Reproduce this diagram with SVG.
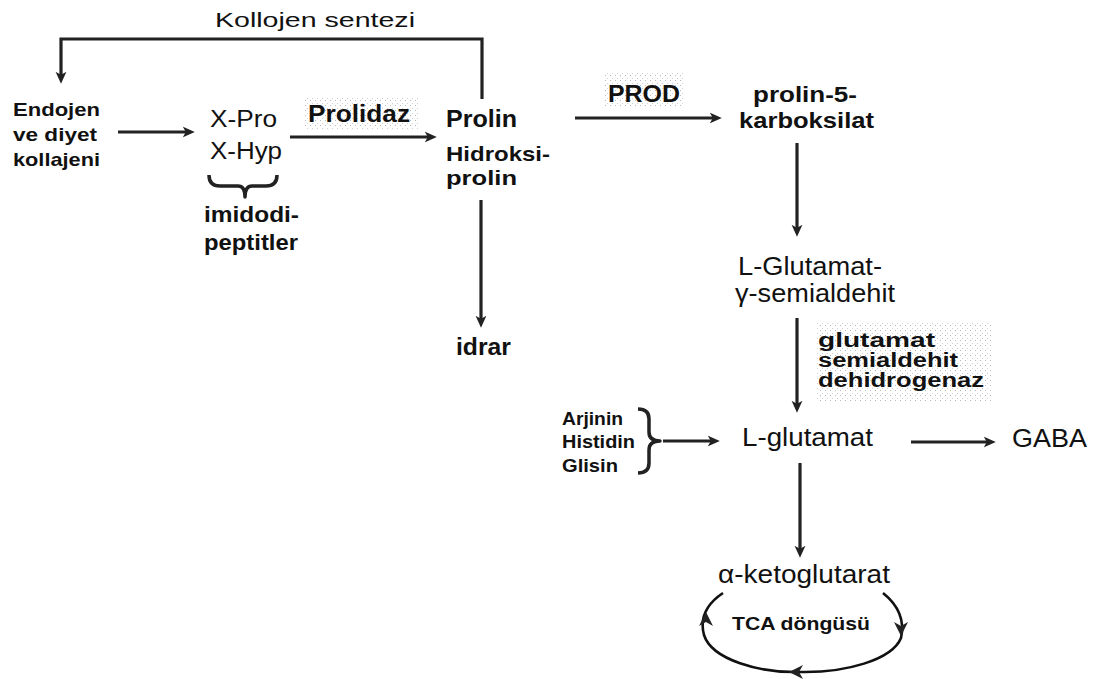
<svg xmlns="http://www.w3.org/2000/svg" width="1094" height="679" viewBox="0 0 1094 679">
<style>
text{font-family:"Liberation Sans",Arial,sans-serif;fill:#111}
.b{font-weight:bold}
.conn{stroke:#222;stroke-width:3.2;fill:none}
.brace{stroke:#222;stroke-width:3.5;fill:none;stroke-linejoin:round}
.cyc{stroke:#111;stroke-width:2.6;fill:none}
.head{fill:#222}
.dots{fill:url(#dots)}
</style>
<defs>
<marker id="ah" viewBox="0 0 10 10" refX="6" refY="5" markerWidth="12" markerHeight="12" markerUnits="userSpaceOnUse" orient="auto">
<path d="M0,0.5 L10,5 L0,9.5 L2.5,5 z" fill="#222"/>
</marker>
<pattern id="dots" width="5" height="5" patternUnits="userSpaceOnUse">
<rect x="0" y="0" width="1" height="1" fill="#b8b8b8"/>
<rect x="2" y="3" width="1" height="1" fill="#d0d0d0"/>
</pattern>
</defs>
<rect width="1094" height="679" fill="#fff"/>

<g id="connectors">
<polyline class="conn" points="482,99 482,39 61,39 61,79" marker-end="url(#ah)"/>
<line class="conn" x1="118" y1="132" x2="190" y2="132" marker-end="url(#ah)"/>
<line class="conn" x1="290" y1="137" x2="432" y2="137" marker-end="url(#ah)"/>
<line class="conn" x1="481" y1="200" x2="481" y2="323" marker-end="url(#ah)"/>
<line class="conn" x1="575" y1="118" x2="717" y2="118" marker-end="url(#ah)"/>
<line class="conn" x1="797" y1="143" x2="797" y2="232" marker-end="url(#ah)"/>
<line class="conn" x1="797" y1="318" x2="797" y2="408" marker-end="url(#ah)"/>
<line class="conn" x1="663" y1="441" x2="715" y2="441" marker-end="url(#ah)"/>
<line class="conn" x1="911" y1="442" x2="991" y2="442" marker-end="url(#ah)"/>
<line class="conn" x1="800" y1="463" x2="800" y2="553" marker-end="url(#ah)"/>
</g>

<g id="label-kollojen">
<text x="215" y="27" font-size="20" textLength="200" lengthAdjust="spacingAndGlyphs">Kollojen sentezi</text>
</g>

<g id="node-endojen">
<text class="b" x="13" y="116" font-size="19" textLength="87" lengthAdjust="spacingAndGlyphs">Endojen</text>
<text class="b" x="13" y="141" font-size="19" textLength="84" lengthAdjust="spacingAndGlyphs">ve diyet</text>
<text class="b" x="13" y="166" font-size="19" textLength="87" lengthAdjust="spacingAndGlyphs">kollajeni</text>
</g>

<g id="node-xpro">
<text x="210" y="127" font-size="23" textLength="67" lengthAdjust="spacingAndGlyphs">X-Pro</text>
<text x="210" y="159" font-size="23" textLength="72" lengthAdjust="spacingAndGlyphs">X-Hyp</text>
</g>

<g id="node-imidodipeptitler">
<path class="brace" d="M209,175 Q209,186 220,186 L238,186 Q245,186 245,197 Q245,186 252,186 L266,186 Q277,186 277,175"/>
<text class="b" x="204" y="222" font-size="22" textLength="95" lengthAdjust="spacingAndGlyphs">imidodi-</text>
<text class="b" x="204" y="250" font-size="22" textLength="94" lengthAdjust="spacingAndGlyphs">peptitler</text>
</g>

<g id="label-prolidaz">
<rect class="dots" x="303" y="96" width="117" height="33"/>
<text class="b" x="308" y="122" font-size="23" textLength="102" lengthAdjust="spacingAndGlyphs">Prolidaz</text>
</g>

<g id="node-prolin">
<text class="b" x="446" y="127" font-size="23" textLength="71" lengthAdjust="spacingAndGlyphs">Prolin</text>
<text class="b" x="446" y="161" font-size="21" textLength="104" lengthAdjust="spacingAndGlyphs">Hidroksi-</text>
<text class="b" x="446" y="185" font-size="21" textLength="71" lengthAdjust="spacingAndGlyphs">prolin</text>
</g>

<g id="node-idrar">
<text class="b" x="456" y="355" font-size="23" textLength="55" lengthAdjust="spacingAndGlyphs">idrar</text>
</g>

<g id="label-prod">
<rect class="dots" x="603" y="73" width="82" height="35"/>
<text class="b" x="608" y="102" font-size="24" textLength="72" lengthAdjust="spacingAndGlyphs">PROD</text>
</g>

<g id="node-p5c">
<text class="b" x="753" y="102" font-size="22" textLength="104" lengthAdjust="spacingAndGlyphs">prolin-5-</text>
<text class="b" x="739" y="128" font-size="22" textLength="135" lengthAdjust="spacingAndGlyphs">karboksilat</text>
</g>

<g id="node-glutamat-semialdehit">
<text x="738" y="275" font-size="25" textLength="144" lengthAdjust="spacingAndGlyphs">L-Glutamat-</text>
<text x="735" y="302" font-size="25" textLength="160" lengthAdjust="spacingAndGlyphs">γ-semialdehit</text>
</g>

<g id="label-gsd">
<rect class="dots" x="816" y="322" width="176" height="81"/>
<text class="b" x="818" y="347" font-size="20" textLength="117" lengthAdjust="spacingAndGlyphs">glutamat</text>
<text class="b" x="818" y="367" font-size="20" textLength="140" lengthAdjust="spacingAndGlyphs">semialdehit</text>
<text class="b" x="818" y="387" font-size="20" textLength="166" lengthAdjust="spacingAndGlyphs">dehidrogenaz</text>
</g>

<g id="node-aminoacids">
<text class="b" x="562" y="425" font-size="18" textLength="61" lengthAdjust="spacingAndGlyphs">Arjinin</text>
<text class="b" x="562" y="448" font-size="18" textLength="73" lengthAdjust="spacingAndGlyphs">Histidin</text>
<text class="b" x="562" y="472" font-size="18" textLength="56" lengthAdjust="spacingAndGlyphs">Glisin</text>
<path class="brace" d="M638,409 Q649,409 649,419 L649,432 Q649,441 660,441 Q649,441 649,450 L649,463 Q649,473 638,473"/>
</g>

<g id="node-lglutamat">
<text x="742" y="446" font-size="25" textLength="131" lengthAdjust="spacingAndGlyphs">L-glutamat</text>
</g>

<g id="node-gaba">
<text x="1012" y="447" font-size="25" textLength="75" lengthAdjust="spacingAndGlyphs">GABA</text>
</g>

<g id="node-aketoglutarat">
<text x="718" y="583" font-size="25" textLength="172" lengthAdjust="spacingAndGlyphs">α-ketoglutarat</text>
</g>

<g id="node-tca">
<path class="cyc" d="M723,593 C705,605 700,620 704,635 C712,660 760,673 800,672"/>
<path class="cyc" d="M883,593 C898,605 905,620 901,638 C892,660 845,673 800,672"/>
<polygon class="head" points="706,612 713,626 706,622 699,626"/>
<polygon class="head" points="901,636 894,622 901,626 908,622"/>
<polygon class="head" points="789,672 803,665 799,672 803,679"/>
<text class="b" x="732" y="630" font-size="18" textLength="138" lengthAdjust="spacingAndGlyphs">TCA döngüsü</text>
</g>
</svg>
